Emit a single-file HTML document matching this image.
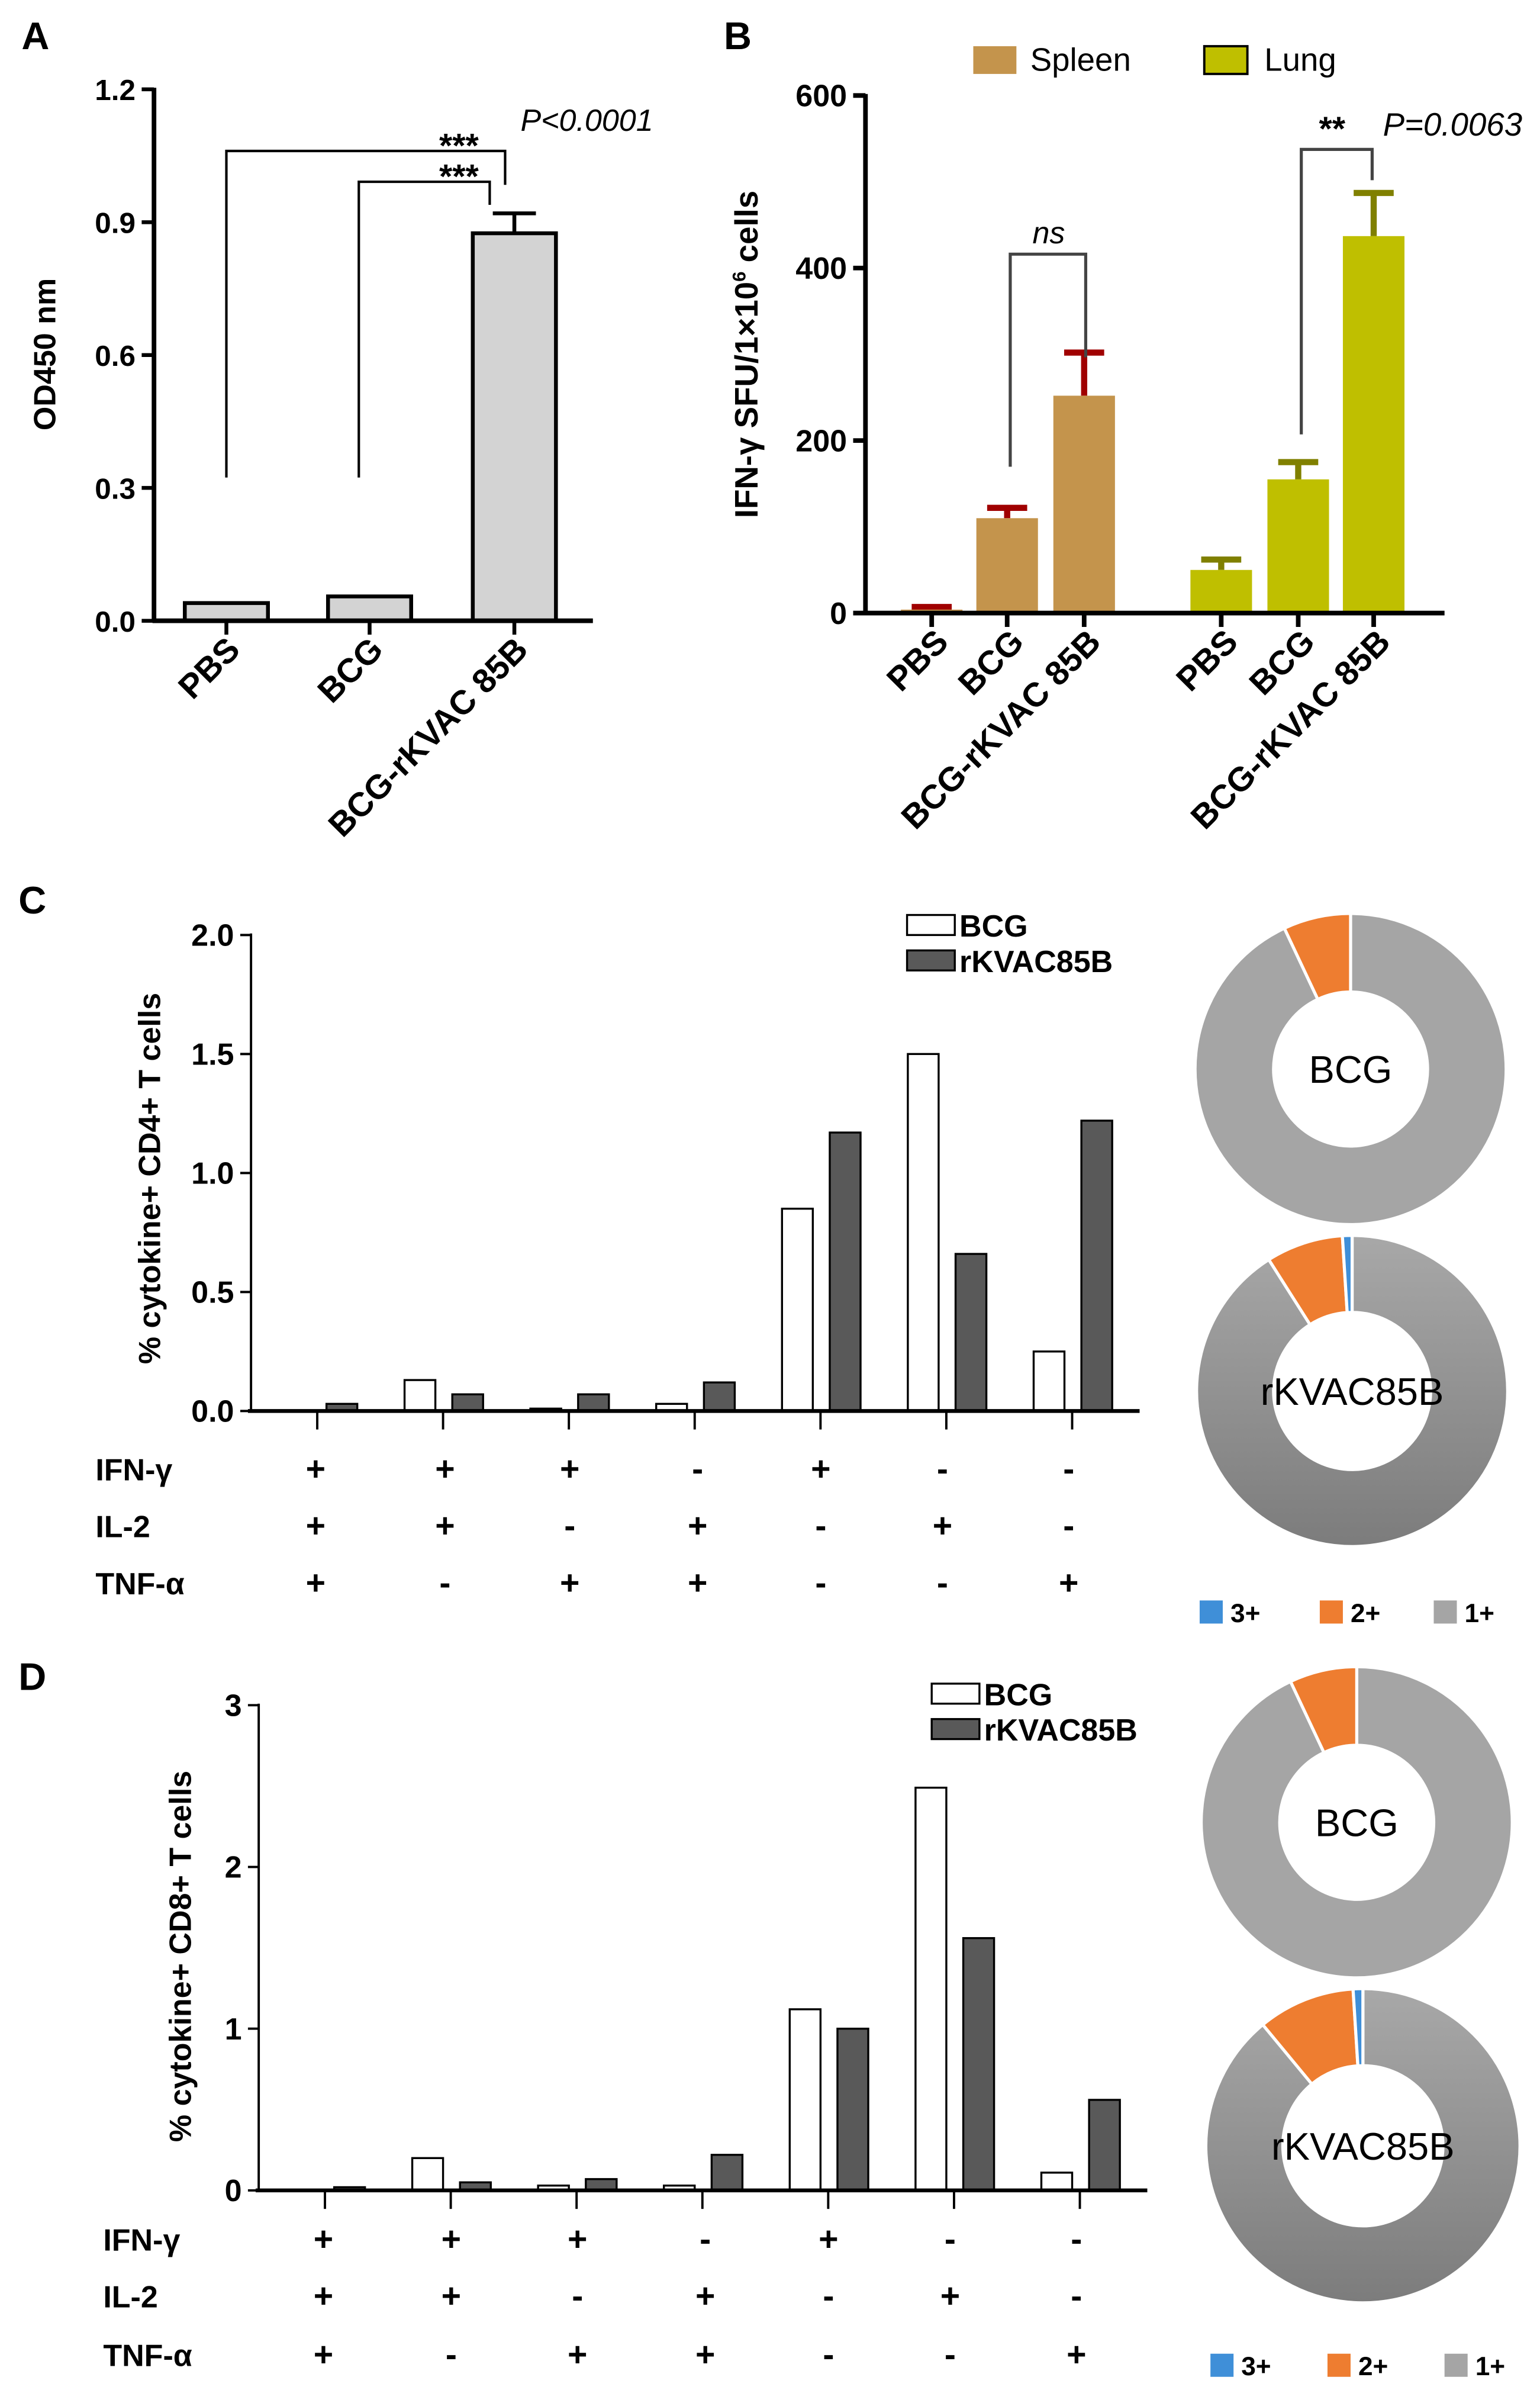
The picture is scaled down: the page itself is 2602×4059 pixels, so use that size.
<!DOCTYPE html>
<html><head><meta charset="utf-8"><style>
html,body{margin:0;padding:0;background:#fff}
svg{display:block}
text{font-family:"Liberation Sans",Arial,sans-serif}
</style></head><body>
<svg id="s" width="2602" height="4059" viewBox="0 0 1000 1560" preserveAspectRatio="none" xmlns="http://www.w3.org/2000/svg">
<g id="root"></g>
</svg>
<script>
// Panel A data
const aCats=["PBS","BCG","BCG-rKVAC 85B"];
const aVals=[0.04,0.055,0.875];
const aErr=[0.0,0.005,0.92];
const aTicks=[0,0.3,0.6,0.9,1.2];
const aTickLabels=["0.0","0.3","0.6","0.9","1.2"];
// Panel B data
const bCats=["PBS","BCG","BCG-rKVAC 85B"];
const bSpleen=[4,110,252];
const bSpleenErr=[7,122,302];
const bLung=[50,155,437];
const bLungErr=[62,175,487];
const bTicks=[0,200,400,600];
// Panel C data
const cBCG=[0.003,0.13,0.01,0.03,0.85,1.5,0.25];
const cRK=[0.03,0.07,0.07,0.12,1.17,0.66,1.22];
const cTicks=[0,0.5,1.0,1.5,2.0];
const cTickLabels=["0.0","0.5","1.0","1.5","2.0"];
// Panel D data
const dBCG=[0.003,0.2,0.03,0.03,1.12,2.49,0.11];
const dRK=[0.02,0.05,0.07,0.22,1.0,1.56,0.56];
const dTicks=[0,1,2,3];
// signs
const sIFN=["+","+","+","-","+","-","-"];
const sIL2=["+","+","-","+","-","+","-"];
const sTNF=["+","-","+","+","-","-","+"];
// pies (fractions 3+,2+,1+)
const pieCBCG=[0,0.07,0.93];
const pieCRK=[0.01,0.08,0.91];
const pieDBCG=[0,0.07,0.93];
const pieDRK=[0.01,0.10,0.89];

const NS="http://www.w3.org/2000/svg";
const root=document.getElementById('root');
function mk(tag,attrs,parent,txt){const e=document.createElementNS(NS,tag);for(const k in attrs)e.setAttribute(k,attrs[k]);if(txt!==undefined)e.textContent=txt;(parent||root).appendChild(e);return e;}
function line(x1,y1,x2,y2,st,w,name){const e=mk('line',{x1,y1,x2,y2,stroke:st,'stroke-width':w});

return e;}
function txt(x,y,s,size,opts,name){const a={x,y,'font-size':size};Object.assign(a,opts||{});const e=mk('text',a,null,s);

return e;}
function rect(x,y,w,h,fill,st,sw,name){const e=mk('rect',{x,y,width:w,height:h,fill,stroke:st||'none','stroke-width':sw||0});

return e;}

txt(14,32,"A",25,{'font-weight':'bold'},'panel-label-a');
txt(470,32,"B",25,{'font-weight':'bold'},'panel-label-b');
txt(12,593,"C",25,{'font-weight':'bold'},'panel-label-c');
txt(12,1097,"D",25,{'font-weight':'bold'},'panel-label-d');

// ===== Panel A =====
(function(){
const x0=100,y0=403,yT=58,max=1.2;
const ys=v=>y0-(v/max)*(y0-yT);
const xc=[147,240,334], bw=54;
aVals.forEach((v,i)=>{rect(xc[i]-bw/2,ys(v),bw,y0-ys(v),'#d3d3d3','#000',2.5,'bar-a-'+i);
 if(aErr[i]>v){line(xc[i],ys(v),xc[i],ys(aErr[i]),'#000',2.5,'error-bar-a-'+i);line(xc[i]-14,ys(aErr[i]),xc[i]+14,ys(aErr[i]),'#000',2.5,'error-cap-a-'+i);}});
line(x0,y0,x0,yT-1,'#000',3,'y-axis-a');
line(x0-1,y0,385,y0,'#000',3,'x-axis-a');
aTicks.forEach((t,i)=>{line(x0-8,ys(t),x0,ys(t),'#000',2.5,'y-tick-a');txt(88,ys(t)+7,aTickLabels[i],19,{'font-weight':'bold','text-anchor':'end'},'y-tick-label-a');});
xc.forEach((x,i)=>{line(x,y0,x,y0+9,'#000',2.5,'x-tick-a');
 txt(0,0,aCats[i],22,{'font-weight':'bold','text-anchor':'end',transform:`translate(${x+10},${y0+20}) rotate(-45)`},'x-label-a');});
txt(0,0,"OD450 nm",20,{'font-weight':'bold','text-anchor':'middle',transform:'translate(36,230) rotate(-90)'},'y-axis-title-a');
mk('polyline',{points:`147,310 147,98 328,98 328,120`,fill:'none',stroke:'#000','stroke-width':1.6});
mk('polyline',{points:`233,310 233,118 318,118 318,133`,fill:'none',stroke:'#000','stroke-width':1.6});
txt(298,102,"***",22,{'font-weight':'bold','text-anchor':'middle'},'sig-stars-1');
txt(298,122,"***",22,{'font-weight':'bold','text-anchor':'middle'},'sig-stars-2');
txt(338,85,"P<0.0001",20,{'font-style':'italic'},'p-value-a');
})();

// ===== Panel B =====
(function(){
const x0=562,y0=398,yT=62,max=600;
const ys=v=>y0-(v/max)*(y0-yT);
const sx=[605,654,704], lx=[793,843,892], bw=40;
function series(vals,errs,xs,fill,ec,nm){vals.forEach((v,i)=>{
 line(xs[i],ys(v),xs[i],ys(errs[i]),ec,4,'error-bar-'+nm);
 line(xs[i]-13,ys(errs[i]),xs[i]+13,ys(errs[i]),ec,4,'error-cap-'+nm);
 rect(xs[i]-bw/2,ys(v),bw,y0-ys(v),fill,null,0,'bar-'+nm+'-'+i);});}
series(bSpleen,bSpleenErr,sx,'#c4944c','#a00000','spleen');
series(bLung,bLungErr,lx,'#bfbf00','#808000','lung');
line(x0,y0,x0,yT-1,'#000',3,'y-axis-b');
line(x0-1,y0,938,y0,'#000',3,'x-axis-b');
bTicks.forEach(t=>{line(x0-8,ys(t),x0,ys(t),'#000',3,'y-tick-b');txt(550,ys(t)+7,String(t),20,{'font-weight':'bold','text-anchor':'end'},'y-tick-label-b');});
sx.concat(lx).forEach((x,i)=>{line(x,y0,x,y0+9,'#000',3,'x-tick-b');
 txt(0,0,bCats[i%3],22,{'font-weight':'bold','text-anchor':'end',transform:`translate(${x+12},${y0+20}) rotate(-45)`},'x-label-b');});
const t=txt(0,0,"",21,{'font-weight':'bold','text-anchor':'middle',transform:'translate(492,230) rotate(-90)'},'y-axis-title-b');
t.innerHTML='IFN-γ SFU/1×10<tspan font-size="12" dy="-8">6</tspan><tspan dy="8"> cells</tspan>';
rect(632,30,28,18,'#c4944c',null,0,'legend-swatch-spleen');
txt(669,46,"Spleen",21,{},'legend-label-spleen');
rect(782,30,28,18,'#bfbf00','#000',1.5,'legend-swatch-lung');
txt(821,46,"Lung",21,{},'legend-label-lung');
mk('polyline',{points:`656,303 656,165 705,165 705,232`,fill:'none',stroke:'#444','stroke-width':2});
txt(681,158,"ns",20,{'font-style':'italic','text-anchor':'middle'},'sig-ns');
mk('polyline',{points:`845,282 845,97 891,97 891,117`,fill:'none',stroke:'#444','stroke-width':2});
txt(865,91,"**",22,{'font-weight':'bold','text-anchor':'middle'},'sig-stars-b');
txt(898,88,"P=0.0063",21,{'font-style':'italic'},'p-value-b');
})();

function barPanel(p){
const ys=v=>p.y0-(v/p.max)*(p.y0-p.yT);
p.bcg.forEach((v,i)=>{const x=p.first+i*p.sp;
 rect(x,ys(v),20,p.y0-ys(v),'#fff','#000',1.3,'bar-bcg-'+p.n+'-'+i);});
p.rk.forEach((v,i)=>{const x=p.first+31+i*p.sp;
 rect(x,ys(v),20,p.y0-ys(v),'#595959','#000',1.3,'bar-rkvac-'+p.n+'-'+i);});
line(p.x0,p.y0,p.x0,p.yT-1,'#000',1.5,'y-axis-'+p.n);
line(p.x0-2,p.y0,p.xe,p.y0,'#000',2.5,'x-axis-'+p.n);
p.ticks.forEach((t,i)=>{line(p.x0-7,ys(t),p.x0,ys(t),'#000',1.5,'y-tick-'+p.n);
 txt(p.x0-11,ys(t)+7,p.labels[i],20,{'font-weight':'bold','text-anchor':'end'},'y-tick-label-'+p.n);});
for(let i=0;i<7;i++){const x=p.first+25+i*p.sp;line(x,p.y0,x,p.y0+12,'#000',1.5,'x-tick-'+p.n);}
txt(0,0,p.title,20,{'font-weight':'bold','text-anchor':'middle',transform:`translate(${p.tx},${p.ty}) rotate(-90)`},'y-axis-title-'+p.n);
const rows=[["IFN-γ",sIFN],["IL-2",sIL2],["TNF-α",sTNF]];
rows.forEach((r,ri)=>{const y=p.ry[ri];
 txt(p.lx,y+7,r[0],20,{'font-weight':'bold'},'row-label-'+r[0]);
 r[1].forEach((s,i)=>txt(p.sx[i],y+7,s,22,{'font-weight':'bold','text-anchor':'middle'},'sign-'+p.n));});
rect(p.lgx,p.lgy,31,13,'#fff','#000',1.3,'legend-swatch-bcg-'+p.n);
txt(p.lgx+34,p.lgy+14,"BCG",20,{'font-weight':'bold'},'legend-label-bcg-'+p.n);
rect(p.lgx,p.lgy+23,31,13,'#595959','#000',1.3,'legend-swatch-rkvac-'+p.n);
txt(p.lgx+34,p.lgy+37,"rKVAC85B",20,{'font-weight':'bold'},'legend-label-rkvac-'+p.n);
}
barPanel({n:'c',x0:163,y0:916,yT:607,max:2.0,xe:740,first:181,sp:81.7,bcg:cBCG,rk:cRK,ticks:cTicks,labels:cTickLabels,
 title:"% cytokine+ CD4+ T cells",tx:104,ty:765,ry:[954,991,1028],lx:62,sx:[205,289,370,453,533,612,694],lgx:589,lgy:594});
barPanel({n:'d',x0:168,y0:1422,yT:1107,max:3,xe:745,first:186,sp:81.7,bcg:dBCG,rk:dRK,ticks:dTicks,labels:["0","1","2","3"],
 title:"% cytokine+ CD8+ T cells",tx:124,ty:1270,ry:[1454,1491,1529],lx:67,sx:[210,293,375,458,538,617,699],lgx:605,lgy:1093});

const pieCols=['#3f8fd8','#ee7d30','#a5a5a5'];
function donut(cx,cy,R,r,fr,label,name,dark){
 const order=[2,1,0];let a=0;
 order.forEach(k=>{const f=fr[k];if(f<=0)return;const a1=a,a2=a+f*2*Math.PI;a=a2;
  const p=(ang,rad)=>[cx+rad*Math.sin(ang),cy-rad*Math.cos(ang)];
  const [x1,y1]=p(a1,R),[x2,y2]=p(a2,R),[x3,y3]=p(a2,r),[x4,y4]=p(a1,r);const lg=(a2-a1)>Math.PI?1:0;
  const col=(k===2&&dark)?'url(#gr)':pieCols[k];
  const e=mk('path',{d:`M${x1},${y1} A${R},${R} 0 ${lg} 1 ${x2},${y2} L${x3},${y3} A${r},${r} 0 ${lg} 0 ${x4},${y4}Z`,fill:col,stroke:'#fff','stroke-width':2});
  
  });
 txt(cx,cy+9,label,25,{'text-anchor':'middle'},name+'-label');
}
const defs=mk('defs',{});
const g=mk('linearGradient',{id:'gr',x1:0,y1:0,x2:0,y2:1},defs);
mk('stop',{offset:'0','stop-color':'#a8a8a8'},g);mk('stop',{offset:'1','stop-color':'#7c7c7c'},g);
donut(877,694,101,50,pieCBCG,"BCG",'donut-c-bcg',false);
donut(878,903,101,51,pieCRK,"rKVAC85B",'donut-c-rkvac',true);
donut(881,1183,101,50,pieDBCG,"BCG",'donut-d-bcg',false);
donut(885,1393,102,52,pieDRK,"rKVAC85B",'donut-d-rkvac',true);
function pieLegend(y,xs,n){["3+","2+","1+"].forEach((l,i)=>{rect(xs[i],y-8,15,15,pieCols[i],null,0,'pie-legend-swatch-'+n);
 txt(xs[i]+20,y+6,l,17,{'font-weight':'bold'},'pie-legend-label-'+n);});}
pieLegend(1047,[779,857,931],'c');
pieLegend(1536,[786,862,938],'d');
</script>
</body></html>
